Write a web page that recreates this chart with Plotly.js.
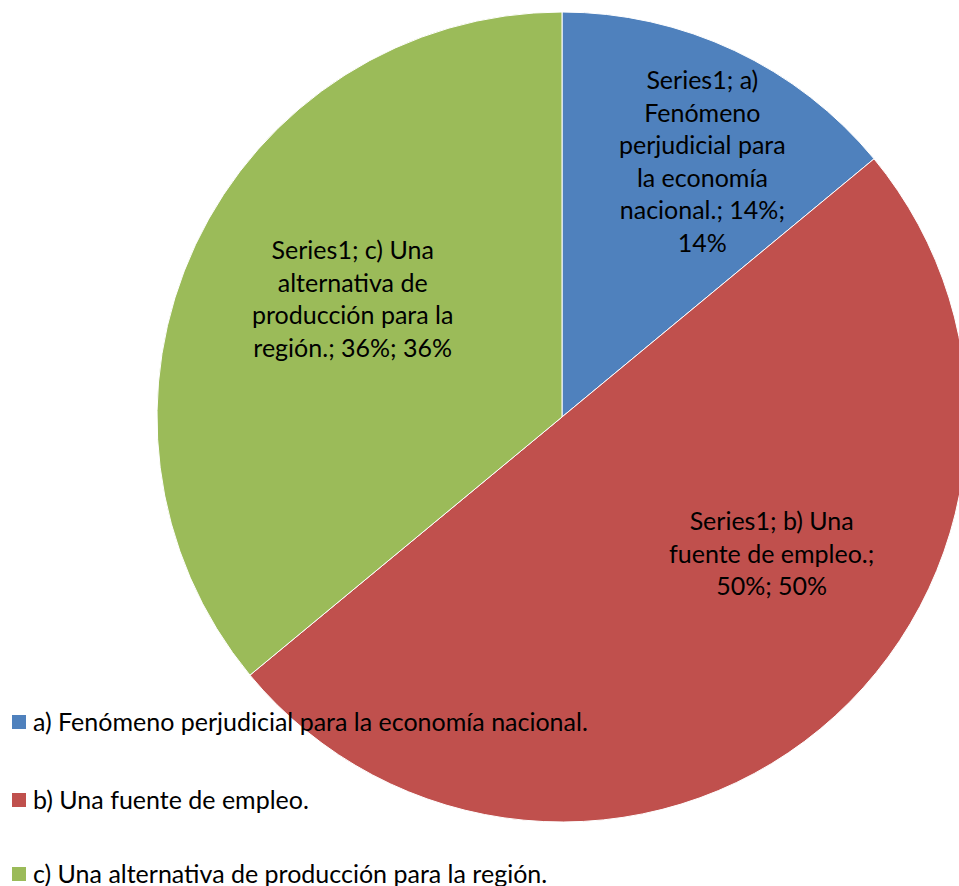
<!DOCTYPE html>
<html><head><meta charset="utf-8">
<script src="https://cdn.plot.ly/plotly-3.0.1.min.js"></script>
<style>html,body{margin:0;padding:0;overflow:hidden;background:#fff}#chart{width:980px;height:886px}</style>
</head><body><div id="chart"></div>
<script>
const categories = [
  "a) Fenómeno perjudicial para la economía nacional.",
  "b) Una fuente de empleo.",
  "c) Una alternativa de producción para la región."
];
const values = [14, 50, 36];
const seriesName = "Series1";
const sliceLabels = [
  "Series1; a)<br>Fenómeno<br>perjudicial para<br>la economía<br>nacional.; 14%;<br>14%",
  "Series1; b) Una<br>fuente de empleo.;<br>50%; 50%",
  "Series1; c) Una<br>alternativa de<br>producción para la<br>región.; 36%; 36%"
];
const colors = ["#4F81BD", "#C0504D", "#9BBB59"];

const W = 980, H = 886;
const px = x => x / W, py = y => 1 - y / H;
const FONT = "Lato, 'Open Sans', sans-serif";
const FS = 25;

const labelPos = [[702, 161], [771, 552], [352, 298]];
const annotations = sliceLabels.map((t, i) => ({
  x: px(labelPos[i][0]), y: py(labelPos[i][1]), xref: "paper", yref: "paper",
  text: t, showarrow: false, xanchor: "center", yanchor: "middle", align: "center",
  font: {family: FONT, size: FS, color: "#000"}
}));
const legY = [721, 799, 873];
const shapes = [];
categories.forEach((c, i) => {
  annotations.push({
    x: px(31), y: py(legY[i]), xref: "paper", yref: "paper", text: c, showarrow: false,
    xanchor: "left", yanchor: "middle", align: "left",
    font: {family: FONT, size: FS, color: "#000"}
  });
  shapes.push({type: "rect", xref: "paper", yref: "paper",
    x0: px(12), x1: px(26), y0: py(legY[i] - 6), y1: py(legY[i] + 8),
    fillcolor: colors[i], line: {width: 0}});
});

Plotly.newPlot("chart", [{
  type: "pie", labels: categories, values: values, name: seriesName,
  sort: false, direction: "clockwise", rotation: 0,
  marker: {colors: colors, line: {color: "#ffffff", width: 1}},
  textinfo: "none", hoverinfo: "label+percent",
  domain: {x: [157 / W, 967 / W], y: [1 - 822 / H, 1 - 12 / H]}
}], {
  width: W, height: H, margin: {l: 0, r: 0, t: 0, b: 0},
  showlegend: false, paper_bgcolor: "#fff",
  annotations: annotations, shapes: shapes
}, {staticPlot: true});
</script></body></html>
